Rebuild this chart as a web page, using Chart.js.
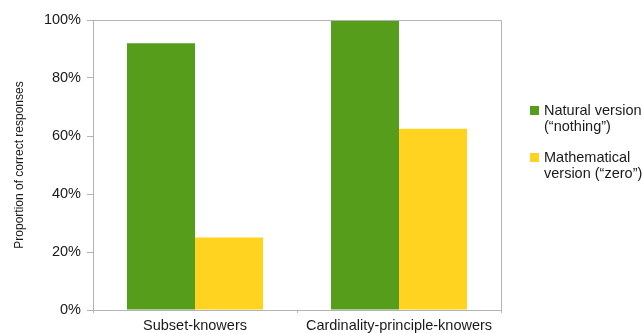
<!DOCTYPE html>
<html><head><meta charset="utf-8">
<script src="https://cdn.jsdelivr.net/npm/chart.js@4/dist/chart.umd.min.js"></script>
<style>html,body{margin:0;padding:0;background:#fff}#wrap{width:644px;height:333px;position:relative}</style>
</head><body><div id="wrap"><canvas id="c" width="644" height="333"></canvas></div>
<script>
const categories = ["Subset-knowers", "Cardinality-principle-knowers"];
const naturalValues = [0.92, 1.00];
const mathValues = [0.25, 0.625];
const seriesLabels = [["Natural version", "(\u201cnothing\u201d)"], ["Mathematical", "version (\u201czero\u201d)"]];
const yTicks = [0, 0.2, 0.4, 0.6, 0.8, 1.0];
const FONT = "'Liberation Sans', Arial, sans-serif";

const borderPlugin = {
  id: 'plotBorder',
  afterDraw(chart) {
    const {ctx, chartArea: a} = chart;
    ctx.save();
    ctx.strokeStyle = '#b3b3b3'; ctx.lineWidth = 1;
    ctx.beginPath();
    ctx.moveTo(a.left, a.top + 0.5); ctx.lineTo(a.right + 0.5, a.top + 0.5);
    ctx.lineTo(a.right + 0.5, a.bottom);
    ctx.stroke();
    // legend
    ctx.font = '14.5px ' + FONT;
    ctx.textBaseline = 'middle';
    const x0 = 530, ys = [110, 157];
    chart.data.datasets.forEach((ds, i) => {
      ctx.fillStyle = ds.backgroundColor;
      ctx.fillRect(x0, ys[i] - 4, 9, 9);
      ctx.fillStyle = '#1a1a1a';
      ds.label.forEach((t, j) => ctx.fillText(t, x0 + 14, ys[i] + 1 + j * 16));
    });
    ctx.restore();
  }
};

new Chart(document.getElementById('c'), {
  type: 'bar',
  data: {
    labels: categories,
    datasets: [
      {label: seriesLabels[0], data: naturalValues, backgroundColor: '#579d1c'},
      {label: seriesLabels[1], data: mathValues, backgroundColor: '#ffd320'}
    ]
  },
  options: {
    responsive: false, animation: false,
    layout: {padding: {left: 0, right: 143, top: 20, bottom: 0}},
    plugins: {legend: {display: false}, tooltip: {enabled: false}},
    datasets: {bar: {categoryPercentage: 0.667, barPercentage: 1.0}},
    scales: {
      x: {
        grid: {drawOnChartArea: false, color: '#b3b3b3', tickLength: 3, offset: true},
        border: {color: '#b3b3b3'},
        ticks: {font: {family: FONT, size: 14.5}, color: '#1a1a1a', padding: 4, maxRotation: 0},
        afterFit(s) { s.height = 23; }
      },
      y: {
        min: 0, max: 1,
        afterBuildTicks(s) { s.ticks = yTicks.map(v => ({value: v})); },
        grid: {drawOnChartArea: false, color: '#b3b3b3', tickLength: 6},
        border: {color: '#b3b3b3'},
        ticks: {font: {family: FONT, size: 14.5}, color: '#1a1a1a', padding: 6,
          callback: v => Math.round(v * 100) + '%'},
        title: {display: true, text: 'Proportion of correct responses', font: {family: FONT, size: 12}, color: '#1a1a1a', padding: {top: 12, bottom: 0}},
        afterFit(s) { s.width = 93; }
      }
    }
  },
  plugins: [borderPlugin]
});
</script></body></html>
